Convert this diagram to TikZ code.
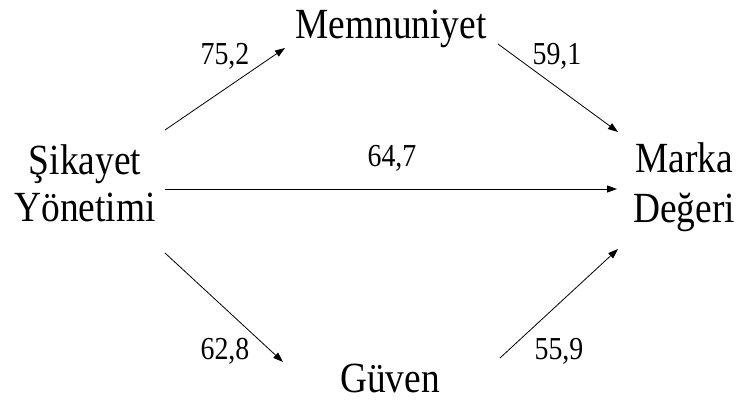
\documentclass[tikz,border=0pt]{standalone}
\usepackage{fontspec}
\setmainfont{Liberation Serif}[FakeStretch=0.87]
\usepackage{tikz}
\usetikzlibrary{positioning, arrows.meta}

\begin{document}
\begin{tikzpicture}[
        x=1pt, y=1pt,
        construct/.style={
          inner sep=0pt,
          align=center,
          font=\fontsize{43}{47}\selectfont
        },
        coef/.style={
          inner sep=0pt,
          anchor=base,
          font=\fontsize{32}{36}\selectfont
        },
        arrow/.style={
          -{Triangle[length=10pt, width=7pt]},
          draw=black,
          line width=0.8pt
        }
      ]
      \useasboundingbox (0,0) rectangle (739,404);

      % Constructs
      \node [construct] (sy) at (85,221) {Şikayet\\Yönetimi};
      \node [construct, anchor=base] (mn) at (391,365) {Memnuniyet};
      \node [construct, anchor=base] (gv) at (390,11) {Güven};
      \node [construct, font=\fontsize{43}{50}\selectfont] (mk) at (684,217) {Marka\\Değeri};

      % Path coefficients
      \node [coef] (c1) at (225,339) {75,2};
      \node [coef] (c2) at (557,339) {59,1};
      \node [coef] (c3) at (392,237) {64,7};
      \node [coef] (c4) at (225,44) {62,8};
      \node [coef] (c5) at (559,44) {55,9};

      % Paths
      \draw [arrow] ([shift={(80,53)}]sy.center) -- ([shift={(-106,-9)}]mn.base);
      \draw [arrow] ([shift={(107,-5)}]mn.base) -- ([shift={(-66,55)}]mk.center);
      \draw [arrow] ([shift={(80,-6)}]sy.center) -- ([shift={(-67,-2)}]mk.center);
      \draw [arrow] ([shift={(80,-70)}]sy.center) -- ([shift={(-107,31)}]gv.base);
      \draw [arrow] ([shift={(110,35)}]gv.base) -- ([shift={(-66,-62)}]mk.center);

\end{tikzpicture}
\end{document}
